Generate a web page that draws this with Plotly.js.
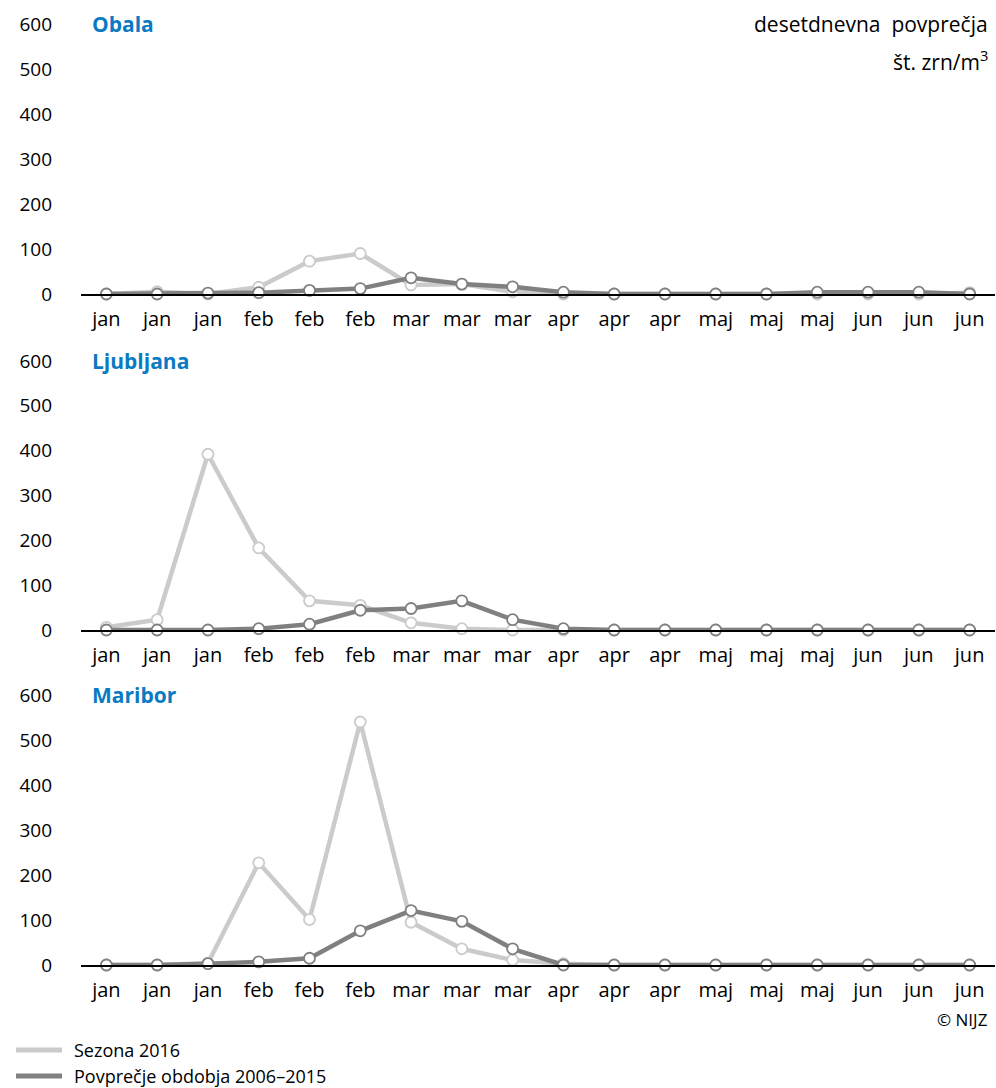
<!DOCTYPE html>
<html>
<head>
<meta charset="utf-8">
<script src="https://cdn.plot.ly/plotly-3.0.1.min.js"></script>
<style>html,body{margin:0;padding:0;background:#fff;}#chart{width:996px;height:1088px;}</style>
</head>
<body>
<div id="chart"></div>
<script>
const months = ["jan","jan","jan","feb","feb","feb","mar","mar","mar","apr","apr","apr","maj","maj","maj","jun","jun","jun"];
const stations = ["Obala","Ljubljana","Maribor"];
const seriesNames = ["Sezona 2016","Povprečje obdobja 2006–2015"];
const obala2016 = [0,5,0,15,73,90,20,22,5,0,0,0,0,0,0,0,0,3];
const obalaAvg  = [0,0,2,3,8,12,36,22,16,4,0,0,0,0,4,4,4,0];
const ljubljana2016 = [6,23,392,183,65,55,16,3,0,0,0,0,0,0,0,0,0,0];
const ljubljanaAvg  = [0,0,0,3,13,44,48,65,23,3,0,0,0,0,0,0,0,0];
const maribor2016 = [0,0,4,227,101,540,95,36,11,3,0,0,0,0,0,0,0,0];
const mariborAvg  = [0,0,3,7,15,76,121,97,36,0,0,0,0,0,0,0,0,0];
const yTicks = [0,100,200,300,400,500,600];

const lightCol = "#cbcbcb", darkCol = "#808080";
const FONT = "Open Sans, Noto Sans, sans-serif";
const xIdx = months.map((m,i)=>i);
const data = [];
const sets = [[obala2016,obalaAvg],[ljubljana2016,ljubljanaAvg],[maribor2016,mariborAvg]];
sets.forEach((s,k)=>{
  const sfx = k===0 ? "" : String(k+1);
  [[s[0],lightCol,seriesNames[0]],[s[1],darkCol,seriesNames[1]]].forEach(([vals,col,nm])=>{
    data.push({x:xIdx,y:vals,type:"scatter",mode:"lines+markers",name:nm,showlegend:false,
      xaxis:"x"+sfx,yaxis:"y"+sfx,cliponaxis:false,
      line:{color:col,width:4.5},
      marker:{size:11,color:"#ffffff",line:{color:col,width:1.8}},hoverinfo:"skip"});
  });
});

const H = 1088, W = 996;
const xdom = [81/W, 995/W];
const ydoms = [[1-294/H,1-24/H],[1-630/H,1-361/H],[1-965/H,1-695/H]];
const layout = {width:W,height:H,margin:{l:0,r:0,t:0,b:0},paper_bgcolor:"#fff",plot_bgcolor:"rgba(0,0,0,0)",
  font:{family:FONT,size:18,color:"#000"},showlegend:false,shapes:[],annotations:[]};
for(let k=0;k<3;k++){
  const sfx = k===0 ? "" : String(k+1);
  layout["xaxis"+sfx] = {domain:xdom,anchor:"y"+sfx,range:[-0.5,17.5],tickmode:"array",tickvals:xIdx,ticktext:months,
    showgrid:false,zeroline:false,showline:true,linecolor:"#000",linewidth:1.5,ticks:"",ticklabelstandoff:6,
    tickfont:{family:FONT,size:20,color:"#000"},fixedrange:true};
  layout["yaxis"+sfx] = {domain:ydoms[k],anchor:"x"+sfx,range:[0,600],tickmode:"array",tickvals:yTicks,
    showgrid:false,zeroline:false,showline:false,ticks:"",ticklabelstandoff:28,
    tickfont:{family:FONT,size:19,color:"#000"},fixedrange:true};
  layout.annotations.push({xref:"paper",yref:"paper",x:90/W,y:ydoms[k][1],xanchor:"left",yanchor:"middle",
    text:"<b>"+stations[k]+"</b>",showarrow:false,font:{family:FONT,size:21,color:"#0a7bc2"}});
}
layout.annotations.push({xref:"paper",yref:"paper",x:990/W,y:1-24/H,xanchor:"right",yanchor:"middle",showarrow:false,
  text:"desetdnevna&nbsp;&nbsp;povprečja",font:{family:FONT,size:21,color:"#000"}});
layout.annotations.push({xref:"paper",yref:"paper",x:990/W,y:1-60/H,xanchor:"right",yanchor:"middle",showarrow:false,
  text:"št. zrn/m<sup>3</sup>",font:{family:FONT,size:21,color:"#000"}});
layout.annotations.push({xref:"paper",yref:"paper",x:990/W,y:1-1019/H,xanchor:"right",yanchor:"middle",showarrow:false,
  text:"© NIJZ",font:{family:FONT,size:17,color:"#000"}});
[[1050,lightCol,seriesNames[0]],[1076,darkCol,seriesNames[1]]].forEach(([yy,col,nm])=>{
  layout.shapes.push({type:"line",xref:"paper",yref:"paper",x0:16/W,x1:62/W,y0:1-yy/H,y1:1-yy/H,line:{color:col,width:5}});
  layout.annotations.push({xref:"paper",yref:"paper",x:72/W,y:1-yy/H,xanchor:"left",yanchor:"middle",showarrow:false,
    text:nm,font:{family:FONT,size:18,color:"#000"}});
});
Plotly.newPlot("chart",data,layout,{displayModeBar:false,staticPlot:true});
</script>
</body>
</html>
